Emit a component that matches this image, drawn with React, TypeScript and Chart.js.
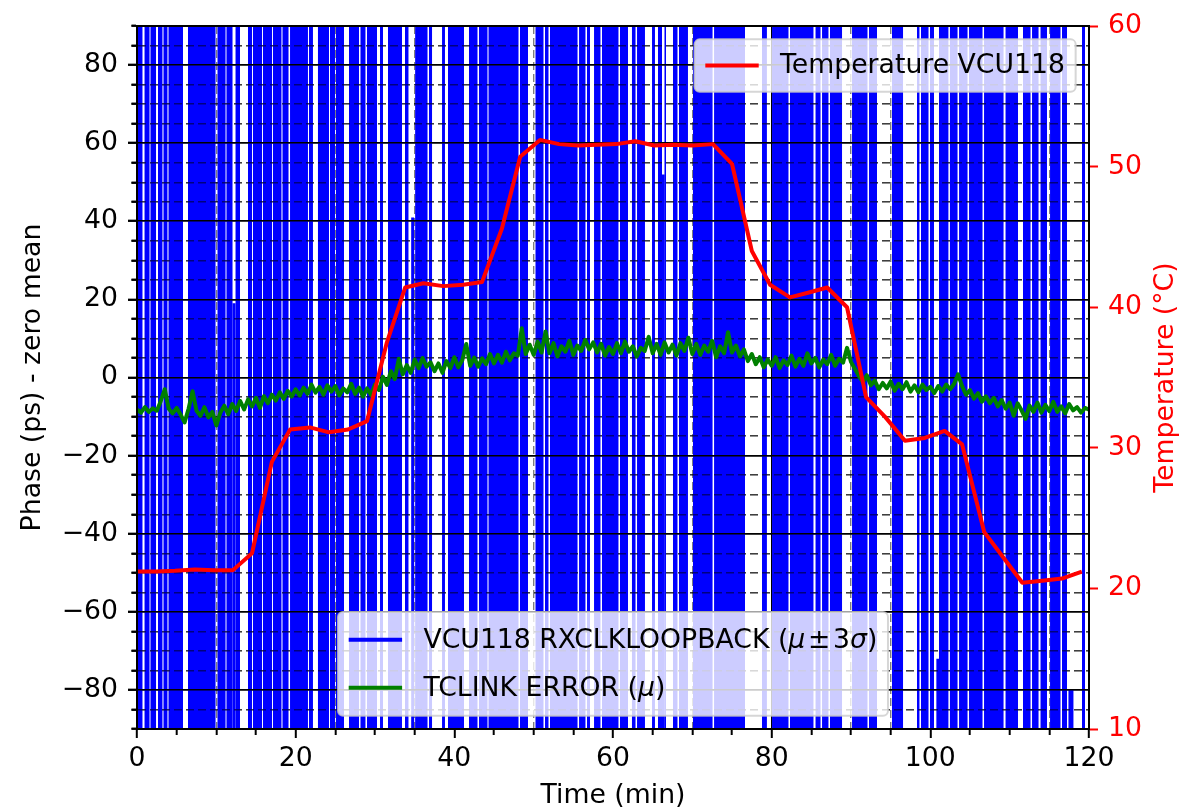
import React, { useEffect, useRef } from "react";
import { Chart, registerables } from "chart.js";

Chart.register(...registerables);

const FONT = "'DejaVu Sans', 'Liberation Sans', sans-serif";
const FS = 26.7;

// ---------------- data ----------------
// x range (min) and axis ranges
const timeRange = [0, 120];
const phaseRange = [-90, 90];
const tempRange = [10, 60];

// VCU118 RXCLKLOOPBACK (mu +- 3 sigma): error bars span beyond the axis range,
// except in the white gaps listed below (start, end in minutes)
const rxFirst = 0.09;
const rxLast = 119.5;
const rxBandHigh = 100;
const rxBandLow = -100;
const rxGaps: [number, number][] = [
  [0.69, 0.95], [1.58, 1.7], [2.4, 2.65], [3.21, 3.34], [3.84, 3.97], [5.8, 6.43], [9.9, 10.15],
  [11.16, 11.28], [12.04, 12.42], [12.98, 13.99], [14.5, 14.62], [15.76, 15.88], [17.02, 17.14],
  [18.21, 18.34], [19.1, 19.29], [21.55, 21.68], [22.18, 22.81], [24.2, 24.33], [24.96, 25.08],
  [26.09, 26.72], [27.98, 28.17], [28.8, 28.99], [30.25, 30.63], [31.01, 31.64], [33.4, 33.78],
  [34.22, 35.06], [36.62, 36.81], [37.19, 38.45], [38.82, 39.2], [41.22, 41.85], [42.92, 43.11],
  [44.18, 44.31], [48.09, 48.28], [49.29, 50.23], [51.24, 51.43], [51.87, 52.06], [55.53, 55.72],
  [56.53, 56.72], [57.1, 57.61], [58.42, 58.61], [60.69, 60.88], [61.89, 62.39], [62.84, 63.03],
  [64.03, 64.92], [65.29, 65.67], [66.18, 66.49], [66.68, 67.56], [68.13, 68.32], [69.45, 70.08],
  [72.55, 72.74], [76.64, 78.78], [79.4, 80.05], [82.12, 82.31], [85.27, 85.53], [86.16, 86.35],
  [87.16, 87.35], [88.87, 90.13], [92.08, 92.27], [93.28, 95.17], [96.56, 98.32], [98.63, 98.82],
  [99.77, 99.96], [100.46, 101.09], [102.28, 102.47], [103.43, 103.62], [104.69, 104.88],
  [106.58, 106.77], [109.23, 109.48], [111.05, 111.68], [112.63, 112.82], [113.64, 113.89],
  [114.71, 115.09], [116.41, 116.6], [117.23, 119.12],
];
// short error bars standing inside the gaps
const rxShortTime = [12.23, 34.75, 66.33, 100.95, 117.6, 117.85];
const rxShortLow = [-100, -100, -100, -100, -100, -100];
const rxShortHigh = [19, 41, 52, -72, -80, -80];

// TCLINK ERROR (mu), one value every 0.5 min from 0 to 120
const tclinkStep = 0.5;
const tclinkError = [
  -8.2, -9.0, -7.6, -8.8, -7.9, -8.5, -6.0, -3.0, -8.0, -9.2,
  -7.8, -9.5, -11.5, -8.0, -3.5, -8.5, -9.8, -7.6, -10.2, -8.8,
  -12.3, -9.0, -7.2, -9.4, -6.8, -8.6, -6.0, -8.2, -5.6, -7.4,
  -5.2, -7.8, -4.8, -6.6, -4.4, -5.9, -3.8, -5.5, -3.4, -4.9,
  -3.0, -4.6, -2.6, -4.2, -1.8, -3.9, -2.4, -4.4, -2.0, -3.6,
  -2.2, -4.6, -2.8, -3.8, -1.6, -4.2, -2.6, -4.9, -2.8, -4.5,
  -1.8, -3.2, 0.2, -1.9, 1.6, -0.4, 4.8, 0.8, 3.2, 1.2,
  4.6, 2.4, 5.0, 2.8, 3.9, 1.6, 3.6, 1.2, 4.2, 2.4,
  5.2, 2.6, 4.4, 8.6, 3.0, 5.1, 2.8, 4.9, 3.4, 6.0,
  3.6, 5.8, 3.8, 6.6, 4.4, 6.2, 5.6, 12.6, 6.0, 8.4,
  5.8, 9.2, 6.4, 11.8, 6.2, 8.8, 5.4, 8.0, 6.6, 9.4,
  5.8, 8.2, 6.8, 9.6, 7.2, 9.0, 6.4, 8.6, 5.6, 7.8,
  6.0, 8.8, 6.2, 9.2, 6.6, 8.0, 5.4, 7.6, 6.8, 10.4,
  6.2, 8.6, 5.8, 9.0, 6.4, 8.4, 5.6, 8.8, 6.8, 10.2,
  6.0, 8.6, 5.8, 8.2, 6.6, 9.4, 5.2, 8.0, 6.2, 11.6,
  6.4, 8.2, 5.4, 7.2, 4.2, 6.0, 3.4, 5.2, 2.6, 4.6,
  3.0, 5.2, 2.4, 4.4, 3.2, 5.6, 2.8, 4.8, 3.0, 6.2,
  3.6, 5.0, 2.6, 4.6, 3.4, 5.8, 3.0, 4.8, 3.8, 7.6,
  4.0, 2.2, 0.4, -1.2, 0.6, -2.0, -0.8, -3.0, -1.4, -2.8,
  -1.0, -3.4, -1.6, -3.0, -1.2, -3.6, -2.0, -3.8, -1.8, -3.2,
  -2.4, -4.0, -2.2, -3.6, -1.8, -3.0, -1.6, 0.8, -2.2, -4.4,
  -3.2, -5.4, -4.0, -6.2, -4.8, -6.6, -5.2, -7.4, -5.8, -8.0,
  -6.4, -9.8, -6.6, -8.4, -10.6, -7.2, -8.8, -6.4, -9.0, -7.0,
  -8.6, -6.2, -8.8, -7.4, -9.2, -6.8, -8.4, -7.6, -9.0, -7.8,
  -8.2,
];

// Temperature VCU118 (deg C)
const tempTime = [
  0, 2.4, 4.8, 7.3, 9.7, 12.1, 14.5, 17.0, 19.3, 21.8, 24.2, 26.6, 29.0, 31.5, 33.8, 36.1,
  38.6, 41.1, 43.5, 46.0, 48.3, 50.8, 53.2, 55.6, 58.0, 60.4, 62.8, 65.2, 67.6, 70.0, 72.6,
  75.0, 77.5, 79.8, 82.3, 84.7, 87.0, 89.5, 91.9, 94.3, 96.8, 99.3, 101.8, 104.0, 106.8,
  109.2, 111.6, 114.1, 116.6, 119.1,
];
const tempValue = [
  21.2, 21.2, 21.25, 21.35, 21.3, 21.3, 22.5, 29.0, 31.3, 31.45, 31.1, 31.3, 31.9, 37.5, 41.4, 41.7,
  41.5, 41.6, 41.8, 45.6, 50.7, 51.9, 51.6, 51.5, 51.55, 51.6, 51.8, 51.5, 51.55, 51.5, 51.6,
  50.2, 44.0, 41.6, 40.7, 41.05, 41.4, 40.0, 33.6, 32.2, 30.5, 30.7, 31.2, 30.25, 24.0,
  22.2, 20.4, 20.55, 20.7, 21.2,
];

// ---------------- legends ----------------
type Part = { text: string; italic?: boolean };
type Entry = { color: string; parts: Part[] };
const legendTop: Entry[] = [{ color: "#ff0000", parts: [{ text: "Temperature VCU118" }] }];
const legendBottom: Entry[] = [
  {
    color: "#0000ff",
    parts: [
      { text: "VCU118 RXCLKLOOPBACK (" },
      { text: "\u03bc", italic: true },
      { text: "\u200a\u00b1\u200a3" },
      { text: "\u03c3", italic: true },
      { text: ")" },
    ],
  },
  {
    color: "#008000",
    parts: [{ text: "TCLINK ERROR (" }, { text: "\u03bc", italic: true }, { text: ")" }],
  },
];

const fontStr = (italic?: boolean) => `${italic ? "italic " : ""}${FS}px ${FONT}`;

function drawLegend(ctx: CanvasRenderingContext2D, entries: Entry[], anchor: string, area: any, rowH: number) {
  const pad = 0.4 * FS, handle = 2 * FS, hpad = 0.8 * FS, spacing = 0.5 * FS, axPad = 0.5 * FS;
  const widthOf = (parts: Part[]) =>
    parts.reduce((w, p) => {
      ctx.font = fontStr(p.italic);
      return w + ctx.measureText(p.text).width;
    }, 0);
  const textW = Math.max(...entries.map((e) => widthOf(e.parts)));
  const w = 2 * pad + handle + hpad + textW;
  const h = 2 * pad + entries.length * rowH + (entries.length - 1) * spacing;
  let x: number, y: number;
  if (anchor === "upper right") {
    x = area.right - axPad - w;
    y = area.top + axPad;
  } else {
    x = (area.left + area.right) / 2 - w / 2;
    y = area.bottom - axPad - h;
  }
  const r = 5;
  ctx.save();
  ctx.beginPath();
  ctx.moveTo(x + r, y);
  ctx.lineTo(x + w - r, y);
  ctx.arcTo(x + w, y, x + w, y + r, r);
  ctx.lineTo(x + w, y + h - r);
  ctx.arcTo(x + w, y + h, x + w - r, y + h, r);
  ctx.lineTo(x + r, y + h);
  ctx.arcTo(x, y + h, x, y + h - r, r);
  ctx.lineTo(x, y + r);
  ctx.arcTo(x, y, x + r, y, r);
  ctx.closePath();
  ctx.fillStyle = "rgba(255,255,255,0.8)";
  ctx.fill();
  ctx.strokeStyle = "rgba(204,204,204,0.8)";
  ctx.lineWidth = 2;
  ctx.stroke();
  entries.forEach((e, i) => {
    const cy = y + pad + i * (rowH + spacing) + rowH / 2;
    ctx.beginPath();
    ctx.strokeStyle = e.color;
    ctx.lineWidth = 4;
    ctx.moveTo(x + pad, cy);
    ctx.lineTo(x + pad + handle, cy);
    ctx.stroke();
    let cx = x + pad + handle + hpad;
    ctx.fillStyle = "#000";
    ctx.textBaseline = "middle";
    ctx.textAlign = "left";
    for (const p of e.parts) {
      ctx.font = fontStr(p.italic);
      ctx.fillText(p.text, cx, cy + 1);
      cx += ctx.measureText(p.text).width;
    }
  });
  ctx.restore();
}

const overlayPlugin = {
  id: "overlay",
  afterDatasetDraw(chart: any, args: any) {
    const ds = chart.data.datasets[args.index];
    if (ds && ds.gridAfter) chart.scales.y.drawGrid(chart.chartArea);
  },
  afterDraw(chart: any) {
    const ctx: CanvasRenderingContext2D = chart.ctx;
    const a = chart.chartArea;
    const yT = chart.scales.yT;
    ctx.save();
    ctx.translate(yT.right - 38, (a.top + a.bottom) / 2);
    ctx.rotate(-Math.PI / 2);
    ctx.fillStyle = "#ff0000";
    ctx.font = fontStr();
    ctx.textAlign = "center";
    ctx.textBaseline = "middle";
    ctx.fillText("Temperature (\u00b0C)", 0, 0);
    ctx.restore();
    drawLegend(ctx, legendTop, "upper right", a, 31);
    drawLegend(ctx, legendBottom, "lower center", a, 34.5);
  },
};

const isMajor = (v: any, step: number) => typeof v === "number" && Math.abs(v % step) < 1e-6;
const fmt = (v: number) => (v < 0 ? "\u2212" + Math.abs(v) : String(v));

function buildBand() {
  const pts: { x: number; y: number }[] = [];
  const spans: [number, number][] = [];
  let s = rxFirst;
  for (const [g0, g1] of rxGaps) {
    spans.push([s, g0]);
    s = g1;
  }
  spans.push([s, rxLast]);
  for (const [t0, t1] of spans) {
    pts.push({ x: t0, y: rxBandLow }, { x: t0, y: rxBandHigh }, { x: t1, y: rxBandHigh }, { x: t1, y: rxBandLow });
  }
  return pts;
}

function buildShort() {
  const pts: { x: number; y: number | null }[] = [];
  rxShortTime.forEach((t, i) => {
    pts.push({ x: t, y: rxShortLow[i] }, { x: t, y: rxShortHigh[i] }, { x: t, y: null });
  });
  return pts;
}

export default function App() {
  const ref = useRef<HTMLCanvasElement>(null);
  useEffect(() => {
    const tickFont = { family: FONT, size: FS };
    const chart = new Chart(ref.current as HTMLCanvasElement, {
      type: "line",
      data: {
        datasets: [
          {
            label: "Temperature VCU118",
            data: tempTime.map((t, i) => ({ x: t, y: tempValue[i] })),
            yAxisID: "yT",
            xAxisID: "x",
            borderColor: "#ff0000",
            borderWidth: 4,
            pointRadius: 0,
            fill: false,
            borderJoinStyle: "round",
            order: 0,
          },
          {
            label: "TCLINK ERROR",
            data: tclinkError.map((v, i) => ({ x: i * tclinkStep, y: v })),
            yAxisID: "y",
            xAxisID: "x",
            borderColor: "#008000",
            borderWidth: 4,
            pointRadius: 0,
            fill: false,
            borderJoinStyle: "round",
            order: 1,
          },
          {
            label: "RX short",
            data: buildShort(),
            yAxisID: "y",
            xAxisID: "x",
            borderColor: "#0000ff",
            borderWidth: 3,
            pointRadius: 0,
            spanGaps: false,
            fill: false,
            order: 2,
            gridAfter: true,
          } as any,
          {
            label: "VCU118 RXCLKLOOPBACK",
            data: buildBand(),
            yAxisID: "y",
            xAxisID: "x",
            borderWidth: 0,
            borderColor: "rgba(0,0,0,0)",
            backgroundColor: "#0000ff",
            pointRadius: 0,
            stepped: true,
            fill: { value: rxBandLow },
            order: 3,
          } as any,
        ],
      },
      options: {
        animation: false,
        responsive: false,
        devicePixelRatio: 1,
        events: [],
        layout: { padding: { top: 18, left: 0, right: 0, bottom: 0 } },
        plugins: { legend: { display: false }, tooltip: { enabled: false }, title: { display: false } },
        scales: {
          x: {
            type: "linear",
            position: "bottom",
            min: timeRange[0],
            max: timeRange[1],
            afterFit: (s: any) => {
              s.height = 83;
            },
            ticks: {
              stepSize: 5,
              autoSkip: false,
              maxRotation: 0,
              minRotation: 0,
              padding: 5,
              color: "#000",
              font: tickFont,
              callback: (v: any) => (isMajor(v, 20) ? fmt(v) : ""),
            },
            grid: {
              color: (c: any) => (isMajor(c.tick && c.tick.value, 20) ? "#000" : "rgba(0,0,0,0.5)"),
              lineWidth: (c: any) => (isMajor(c.tick && c.tick.value, 20) ? 1.6 : 1.4),
              tickColor: "#000",
              tickWidth: 2,
              tickLength: 9,
              tickBorderDash: (c: any) => (isMajor(c.tick && c.tick.value, 20) ? [] : [5, 100]),
            },
            border: {
              color: "#000",
              width: 2,
              z: 2,
              dash: (c: any) => (c.tick && !isMajor(c.tick.value, 20) ? [8, 4] : []),
            },
            title: {
              display: true,
              text: "Time (min)",
              color: "#000",
              font: { family: FONT, size: FS },
              padding: { top: 0, bottom: 0 },
            },
          },
          xTop: {
            type: "linear",
            position: "top",
            min: timeRange[0],
            max: timeRange[1],
            afterFit: (s: any) => {
              s.height = 0;
            },
            ticks: { display: false },
            grid: { drawOnChartArea: false, drawTicks: false },
            border: { color: "#000", width: 2, z: 2 },
          },
          y: {
            type: "linear",
            position: "left",
            min: phaseRange[0],
            max: phaseRange[1],
            afterFit: (s: any) => {
              s.width = 137;
            },
            ticks: {
              stepSize: 5,
              autoSkip: false,
              padding: 10,
              color: "#000",
              font: tickFont,
              callback: (v: any) => (isMajor(v, 20) ? fmt(v) : ""),
            },
            grid: {
              color: (c: any) => (isMajor(c.tick && c.tick.value, 20) ? "#000" : "rgba(0,0,0,0.5)"),
              lineWidth: (c: any) => (isMajor(c.tick && c.tick.value, 20) ? 1.6 : 1.4),
              tickColor: "#000",
              tickWidth: 2,
              tickLength: 9,
              tickBorderDash: (c: any) => (isMajor(c.tick && c.tick.value, 20) ? [] : [0, 3.5, 10, 100]),
            },
            border: {
              color: "#000",
              width: 2,
              z: 2,
              dash: (c: any) => (c.tick && !isMajor(c.tick.value, 20) ? [8, 4] : []),
            },
            title: {
              display: true,
              text: "Phase (ps) - zero mean",
              color: "#000",
              font: { family: FONT, size: FS },
              padding: { top: 17, bottom: 0 },
            },
          },
          yT: {
            type: "linear",
            position: "right",
            min: tempRange[0],
            max: tempRange[1],
            afterFit: (s: any) => {
              s.width = 115;
            },
            ticks: { stepSize: 10, autoSkip: false, padding: 10, color: "#ff0000", font: tickFont },
            grid: { drawOnChartArea: false, tickColor: "#ff0000", tickWidth: 2, tickLength: 9 },
            border: { color: "#000", width: 2, z: 2 },
            title: { display: false },
          },
        },
      } as any,
      plugins: [overlayPlugin],
    });
    return () => chart.destroy();
  }, []);
  return (
    <div style={{ position: "fixed", left: 0, top: 0, width: 1204, height: 812, background: "#fff" }}>
      <canvas ref={ref} width={1204} height={812} style={{ display: "block", width: 1204, height: 812 }} />
    </div>
  );
}
